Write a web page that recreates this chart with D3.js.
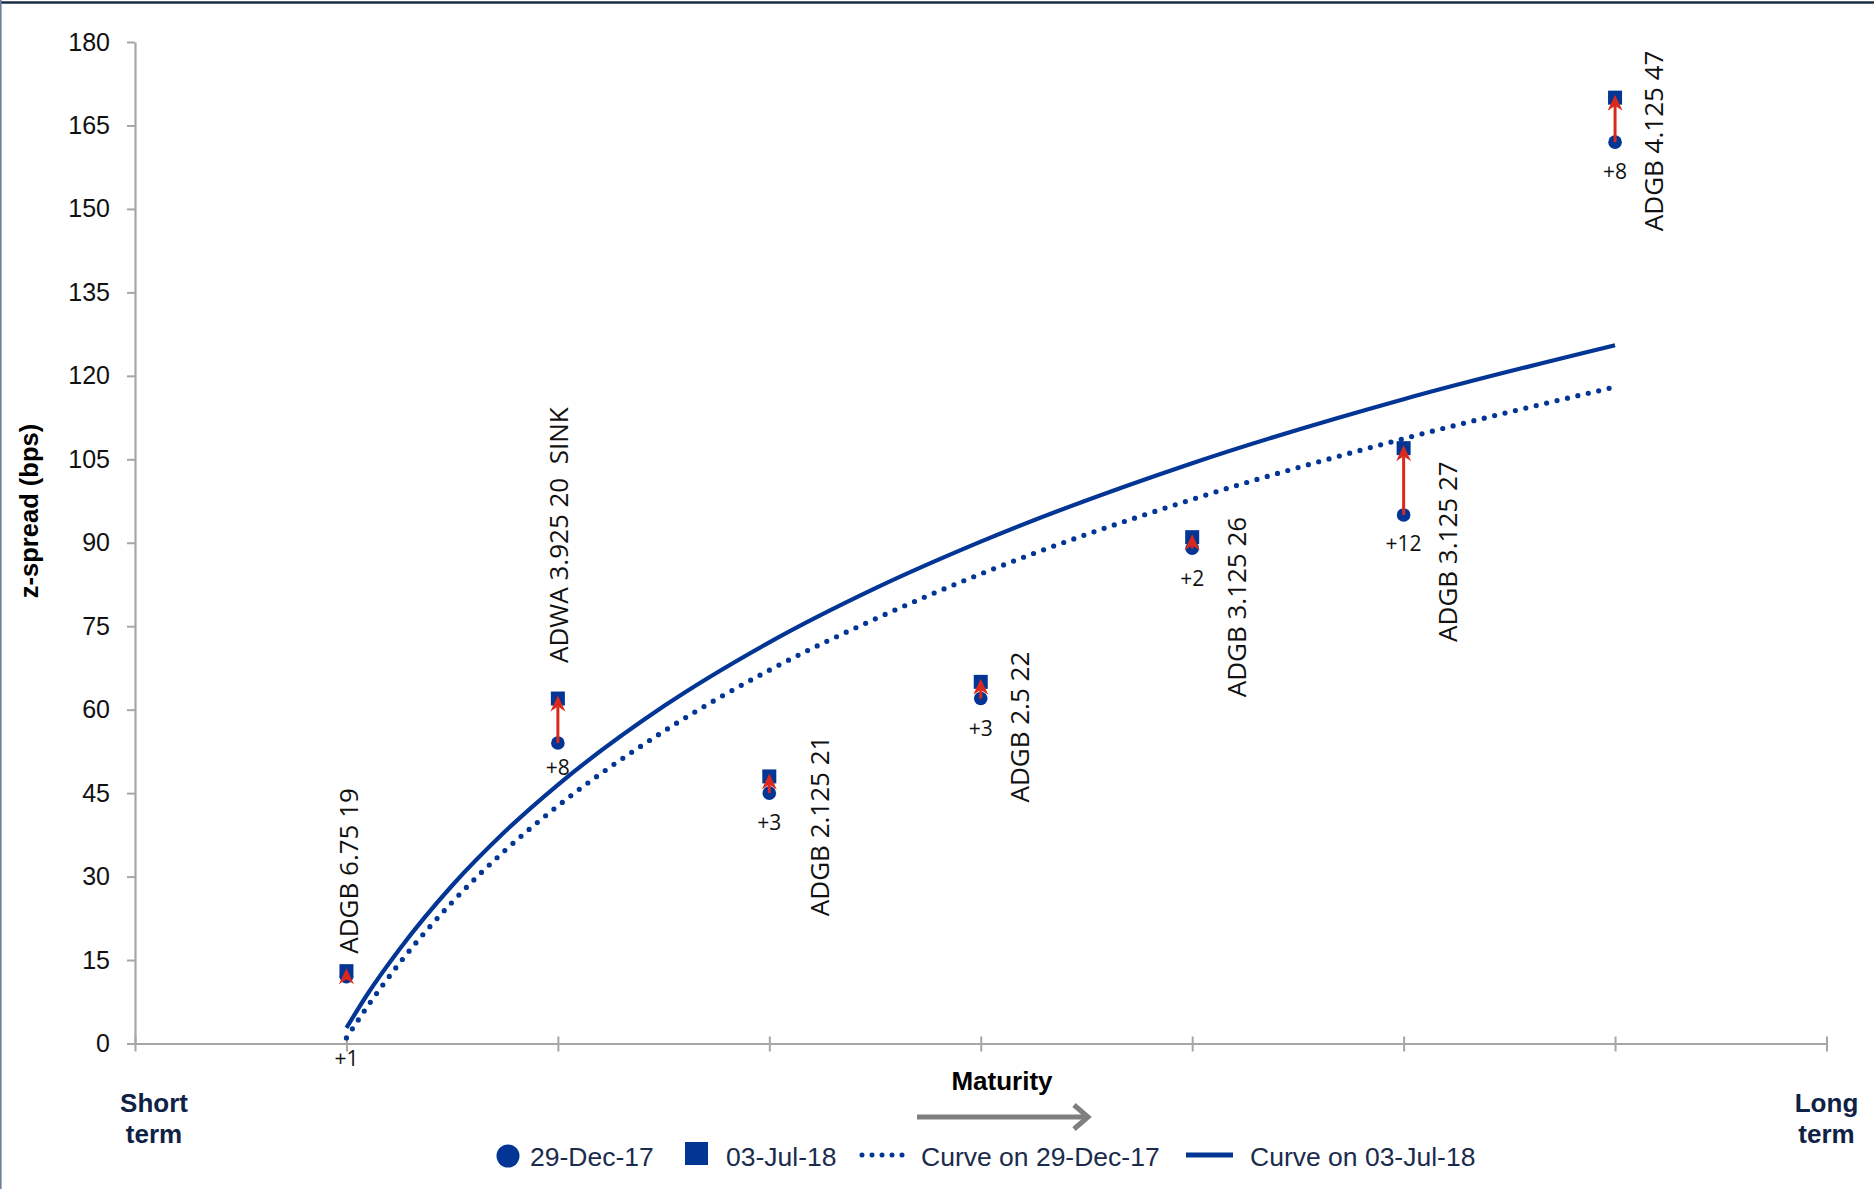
<!DOCTYPE html>
<html>
<head>
<meta charset="utf-8">
<script src="https://cdn.jsdelivr.net/npm/d3@7"></script>
<style>
  html, body { margin: 0; padding: 0; background: #fff; }
  svg { display: block; }
</style>
</head>
<body>
<svg id="chart" width="1874" height="1189"></svg>
<script>
// ---------------- DATA ----------------
const categories = [1, 2, 3, 4, 5, 6, 7];
const bondNames = ["ADGB 6.75 19", "ADWA 3.925 20  SINK", "ADGB 2.125 21", "ADGB 2.5 22",
                   "ADGB 3.125 26", "ADGB 3.125 27", "ADGB 4.125 47"];
const spreadDec17 = [12, 54, 45, 62, 89, 95, 162];
const spreadJul18 = [13, 62, 48, 65, 91, 107, 170];
const changeLabels = ["+1", "+8", "+3", "+3", "+2", "+12", "+8"];

const curveMaturity = [1, 1.1, 1.25, 1.5, 1.75, 2, 2.5, 3, 3.5, 4, 5, 6, 7];
const curveDec17 = [1.0, 6.7, 14.4, 25.4, 34.7, 42.7, 56.1, 67.1, 76.3, 84.4, 97.8, 108.7, 118.0];
const curveJul18 = [2.8, 8.9, 16.9, 28.4, 38.1, 46.5, 60.6, 72.1, 81.8, 90.2, 104.3, 115.8, 125.5];

const yTicks = [0, 15, 30, 45, 60, 75, 90, 105, 120, 135, 150, 165, 180];
const xTickPositions = [0, 1, 2, 3, 4, 5, 6, 7, 8];

const yAxisTitle = "z-spread (bps)";
const xAxisTitle = "Maturity";
const shortTermLines = ["Short", "term"];
const longTermLines = ["Long", "term"];
const legendLabels = ["29-Dec-17", "03-Jul-18", "Curve on 29-Dec-17", "Curve on 03-Jul-18"];

// ---------------- LAYOUT (not data) ----------------
// bond-name label: [dx from point, start offset from circle centre] in px
const nameLabelLayout = [[2, -23], [1, -80], [50, 123], [39, 104], [44.5, 149], [44, 127], [39, 89]];
// change label vertical offset below circle centre, px
const changeLabelDy = [82, 24, 29, 30, 30, 29, 29];

const W = 1874, H = 1189;
const plotLeft = 135, plotRight = 1826.5, plotTop = 42, plotBottom = 1043.5;

const blue = "#023594";
const red = "#d9291c";
const axisGrey = "#a6a6a6";
const navy = "#0f2245";
const sansFont = "'Liberation Sans', Arial, sans-serif";
const labelFont = "'Open Sans', 'Noto Sans', sans-serif";

const svg = d3.select("#chart");

// frame lines
svg.append("line").attr("x1", 0).attr("x2", W).attr("y1", 2.5).attr("y2", 2.5)
  .attr("stroke", "#1b2d44").attr("stroke-width", 2.5);
svg.append("line").attr("x1", 0.8).attr("x2", 0.8).attr("y1", 0).attr("y2", H)
  .attr("stroke", "#6e8097").attr("stroke-width", 1.6);

const x = d3.scaleLinear().domain([0, 8]).range([plotLeft, plotRight]);
const y = d3.scaleLinear().domain([0, 180]).range([plotBottom, plotTop]);

// y axis
const yAxisG = svg.append("g").attr("transform", `translate(${plotLeft},0)`)
  .call(d3.axisLeft(y).tickValues(yTicks).tickSize(8).tickPadding(17).tickSizeOuter(0));
yAxisG.select(".domain").attr("stroke", axisGrey).attr("stroke-width", 2.2);
yAxisG.selectAll(".tick line").attr("stroke", axisGrey).attr("stroke-width", 2);
yAxisG.selectAll(".tick text").attr("font-family", sansFont).attr("font-size", 25)
  .attr("fill", "#111");

// x axis
const xAxisG = svg.append("g").attr("transform", `translate(0,${plotBottom})`)
  .call(d3.axisBottom(x).tickValues(xTickPositions).tickFormat("").tickSize(8).tickSizeOuter(0));
xAxisG.select(".domain").attr("stroke", axisGrey).attr("stroke-width", 2.2);
xAxisG.selectAll(".tick line").attr("y1", -7).attr("y2", 8)
  .attr("stroke", axisGrey).attr("stroke-width", 2);

// y axis title
svg.append("text")
  .attr("transform", `translate(38,511) rotate(-90)`)
  .attr("text-anchor", "middle")
  .attr("font-family", sansFont).attr("font-weight", "bold").attr("font-size", 25.5)
  .attr("fill", "#000").text(yAxisTitle);

// curves
const lineGen = (vals) => d3.line()
  .x((d, i) => x(curveMaturity[i]))
  .y((d) => y(d))
  .curve(d3.curveMonotoneX)(vals);

svg.append("path").attr("d", lineGen(curveDec17))
  .attr("fill", "none").attr("stroke", blue).attr("stroke-width", 5.2)
  .attr("stroke-dasharray", "0 10.7").attr("stroke-linecap", "round");
svg.append("path").attr("d", lineGen(curveJul18))
  .attr("fill", "none").attr("stroke", blue).attr("stroke-width", 4.2);

// points
const pts = categories.map((c, i) => ({
  c, name: bondNames[i], dec: spreadDec17[i], jul: spreadJul18[i], chg: changeLabels[i], i
}));

const sq = 14;
svg.append("g").selectAll("rect").data(pts).join("rect")
  .attr("x", d => x(d.c) - sq / 2).attr("y", d => y(d.jul) - sq / 2)
  .attr("width", sq).attr("height", sq).attr("fill", blue);

svg.append("g").selectAll("circle").data(pts).join("circle")
  .attr("cx", d => x(d.c)).attr("cy", d => y(d.dec)).attr("r", 6.8).attr("fill", blue);

// arrows
const arrowG = svg.append("g");
pts.forEach(d => {
  const px = x(d.c);
  const y0 = y(d.dec);
  const tip = y(d.jul) - 3;
  const headLen = 16, headW = 7.5, notch = 11;
  arrowG.append("line").attr("x1", px).attr("x2", px).attr("y1", y0).attr("y2", tip + notch)
    .attr("stroke", red).attr("stroke-width", 3);
  arrowG.append("path")
    .attr("d", `M${px},${tip} L${px - headW},${tip + headLen} L${px},${tip + notch} L${px + headW},${tip + headLen} Z`)
    .attr("fill", red);
});

// change labels
svg.append("g").selectAll("text").data(pts).join("text")
  .attr("x", d => x(d.c)).attr("y", d => y(d.dec) + changeLabelDy[d.i])
  .attr("dy", "0.36em").attr("text-anchor", "middle")
  .attr("font-family", labelFont).attr("font-size", 21).attr("fill", "#111")
  .text(d => d.chg);

// bond name labels (rotated)
const nameFs = 26;
svg.append("g").selectAll("text").data(pts).join("text")
  .attr("transform", d => {
    const [dx, dy] = nameLabelLayout[d.i];
    return `translate(${x(d.c) + dx + 0.357 * nameFs},${y(d.dec) + dy}) rotate(-90)`;
  })
  .attr("text-anchor", "start")
  .attr("font-family", labelFont).attr("font-size", nameFs).attr("fill", "#111")
  .attr("xml:space", "preserve").style("white-space", "pre")
  .text(d => d.name);

// Maturity label and arrow
svg.append("text").attr("x", 1002).attr("y", 1090).attr("text-anchor", "middle")
  .attr("font-family", sansFont).attr("font-weight", "bold").attr("font-size", 26)
  .attr("fill", "#000").text(xAxisTitle);
svg.append("line").attr("x1", 917).attr("x2", 1086).attr("y1", 1117).attr("y2", 1117)
  .attr("stroke", "#7f7f7f").attr("stroke-width", 5);
svg.append("polyline").attr("points", "1074,1105 1088,1117 1074,1129")
  .attr("fill", "none").attr("stroke", "#7f7f7f").attr("stroke-width", 5);

// Short term / Long term
[[shortTermLines, 154], [longTermLines, 1826.5]].forEach(([lines, cx]) => {
  lines.forEach((t, k) => {
    svg.append("text").attr("x", cx).attr("y", 1112 + k * 31).attr("text-anchor", "middle")
      .attr("font-family", sansFont).attr("font-weight", "bold").attr("font-size", 26)
      .attr("fill", navy).text(t);
  });
});

// legend
const lg = svg.append("g");
const legendTextY = 1166;
lg.append("circle").attr("cx", 508).attr("cy", 1156).attr("r", 11.5).attr("fill", blue);
lg.append("text").attr("x", 530).attr("y", legendTextY).text(legendLabels[0]);
lg.append("rect").attr("x", 685).attr("y", 1142).attr("width", 23).attr("height", 23).attr("fill", blue);
lg.append("text").attr("x", 726).attr("y", legendTextY).text(legendLabels[1]);
lg.append("line").attr("x1", 862).attr("x2", 906).attr("y1", 1155).attr("y2", 1155)
  .attr("stroke", blue).attr("stroke-width", 5).attr("stroke-dasharray", "0 10")
  .attr("stroke-linecap", "round");
lg.append("text").attr("x", 921).attr("y", legendTextY).text(legendLabels[2]);
lg.append("line").attr("x1", 1186).attr("x2", 1233).attr("y1", 1155).attr("y2", 1155)
  .attr("stroke", blue).attr("stroke-width", 5);
lg.append("text").attr("x", 1250).attr("y", legendTextY).text(legendLabels[3]);
lg.selectAll("text").attr("font-family", sansFont).attr("font-size", 26.5).attr("fill", "#1a2b4c");
</script>
</body>
</html>
